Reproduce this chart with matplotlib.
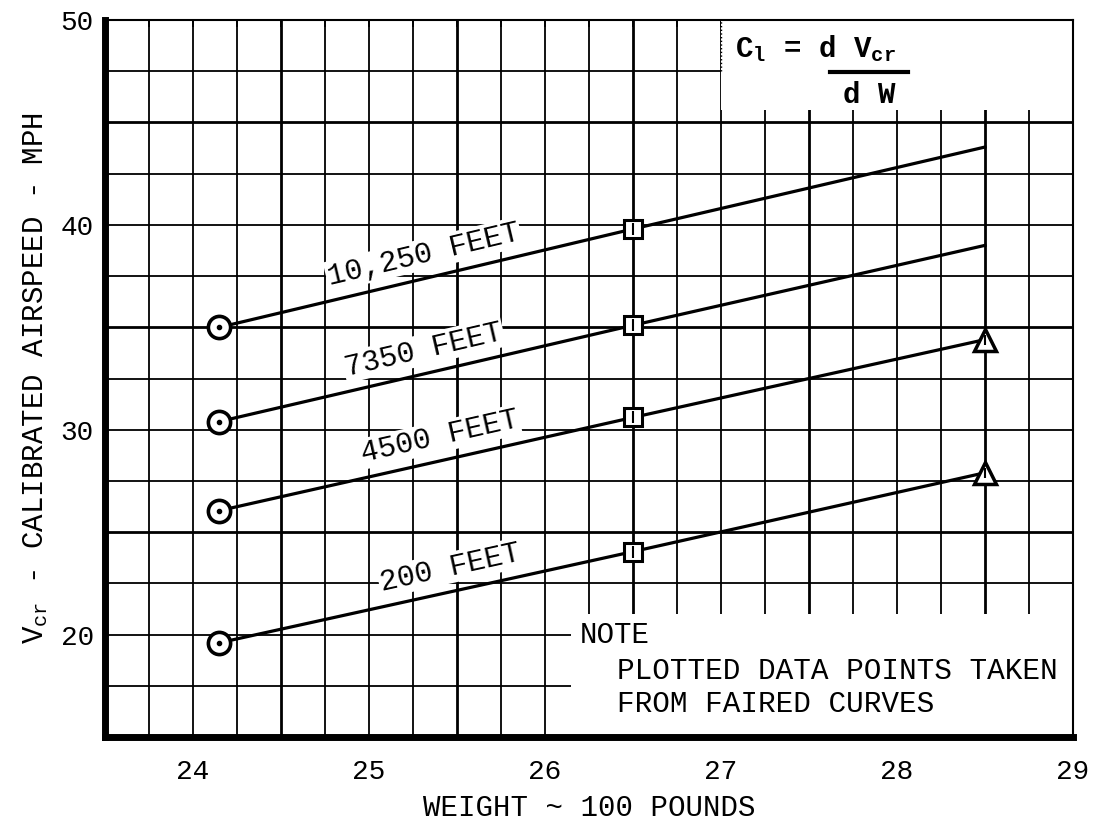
import matplotlib
matplotlib.use("Agg")
import matplotlib.pyplot as plt
from matplotlib.patches import Rectangle
from matplotlib.ticker import MultipleLocator
import numpy as np

# weight (100 lb) of the three faired points
weight = [24.15, 26.5, 28.5]

# V_cr (MPH)
alt_labels = ["10,250 FEET", "7350 FEET", "4500 FEET", "200 FEET"]
vcr_10250 = [35.0, 39.8, 43.8]
vcr_7350 = [30.4, 35.1, 39.0]
vcr_4500 = [26.05, 30.6, 34.4]
vcr_200 = [19.6, 24.05, 27.9]
curves = [vcr_10250, vcr_7350, vcr_4500, vcr_200]

# which curves have a plotted triangle at the last weight
has_triangle = [False, False, True, True]

x_ticks = [24, 25, 26, 27, 28, 29]
y_ticks = [20, 30, 40, 50]

# where the altitude labels sit along each line
label_x = [25.34, 25.34, 25.43, 25.49]

FONT = "Liberation Mono"
plt.rcParams["font.family"] = [FONT, "DejaVu Sans Mono"]
plt.rcParams["mathtext.fontset"] = "custom"
plt.rcParams["mathtext.rm"] = FONT
plt.rcParams["mathtext.it"] = FONT
plt.rcParams["mathtext.tt"] = FONT
plt.rcParams["mathtext.bf"] = FONT + ":bold"


def draw_grid(ax):
    for x in np.arange(23.75, 29.0, 0.25):
        heavy = abs((x % 1) - 0.5) < 1e-6
        ax.axvline(x, color="black", lw=2.0 if heavy else 1.3, zorder=1)
    for y in np.arange(17.5, 50.0, 2.5):
        heavy = abs((y % 10) - 5) < 1e-6
        ax.axhline(y, color="black", lw=2.0 if heavy else 1.3, zorder=1)


def main():
    fig = plt.figure(figsize=(11.02, 8.24), dpi=100)
    ax = fig.add_axes([0.0953, 0.1056, 0.8784, 0.8701])
    ax.set_xlim(23.5, 29.0)
    ax.set_ylim(15, 50)

    draw_grid(ax)

    # blank areas of the graph paper (formula and note)
    ax.add_patch(Rectangle((27.0, 45.6), 2.0, 4.4, facecolor="white",
                           edgecolor="none", zorder=2))
    ax.add_patch(Rectangle((26.15, 15.0), 2.85, 6.0, facecolor="white",
                           edgecolor="none", zorder=2))
    ax.plot([27.0, 27.0], [47.5, 50], color="black", lw=1.0, ls=":", zorder=2)

    # pixels per data unit, to turn line slopes into text angles
    p0 = ax.transData.transform((24, 20))
    p1 = ax.transData.transform((25, 21))
    sx = p1[0] - p0[0]
    sy = p1[1] - p0[1]

    for vals, lab, lx, tri in zip(curves, alt_labels, label_x, has_triangle):
        ax.plot(weight, vals, color="black", lw=2.3, zorder=3)
        ax.plot(weight[0], vals[0], marker="o", ms=16, mfc="white",
                mec="black", mew=2.6, zorder=4)
        ax.plot(weight[0], vals[0], marker=".", ms=6, color="black", zorder=5)
        ax.plot(weight[1], vals[1], marker="s", ms=13, mfc="white",
                mec="black", mew=2.2, zorder=4)
        ax.plot(weight[1], vals[1], marker="|", ms=8, color="black",
                mew=1.5, zorder=5)
        if tri:
            ax.plot(weight[2], vals[2], marker="^", ms=16, mfc="white",
                    mec="black", mew=2.5, zorder=4)
            ax.plot(weight[2], vals[2], marker="|", ms=7, color="black",
                    mew=1.5, zorder=5)

        slope = (vals[1] - vals[0]) / (weight[1] - weight[0])
        ang = np.degrees(np.arctan(slope * sy / sx))
        ly = np.interp(lx, weight, vals)
        ox = -np.sin(np.radians(ang)) * 17
        oy = np.cos(np.radians(ang)) * 17
        ax.annotate(lab, (lx, ly), xytext=(ox, oy), textcoords="offset points",
                    rotation=ang, rotation_mode="anchor", ha="center",
                    va="center", fontsize=21.5, zorder=6,
                    bbox=dict(facecolor="white", edgecolor="none", pad=1))

    # formula in the upper right
    ax.text(27.08, 48.6, r"C$_{\mathbf{l}}$ = d V$_{\mathbf{cr}}$",
            fontsize=21, fontweight="bold", ha="left", va="center", zorder=6)
    ax.plot([27.62, 28.06], [47.45, 47.45], color="black", lw=3, zorder=6)
    ax.text(27.84, 46.35, "d W", fontsize=21, fontweight="bold",
            ha="center", va="center", zorder=6)

    # note in the lower right
    ax.text(26.2, 20.0, "NOTE", fontsize=21, ha="left", va="center", zorder=6)
    ax.text(26.41, 18.2, "PLOTTED DATA POINTS TAKEN", fontsize=21.2,
            ha="left", va="center", zorder=6)
    ax.text(26.41, 16.6, "FROM FAIRED CURVES", fontsize=21.2,
            ha="left", va="center", zorder=6)

    ax.set_xticks(x_ticks)
    ax.set_yticks(y_ticks)
    ax.xaxis.set_minor_locator(MultipleLocator(0.25))
    ax.tick_params(axis="y", length=0, labelsize=20, pad=8)
    # small stubs along the top edge, labels below
    ax.tick_params(axis="x", which="both", top=True, bottom=False,
                   direction="in", length=5, width=1.3,
                   labelbottom=True, labeltop=False, labelsize=20, pad=16)

    ax.set_xlabel("WEIGHT ~ 100 POUNDS", fontsize=21, labelpad=6)
    ax.set_ylabel(r"V$_{\rm cr}$ - CALIBRATED AIRSPEED - MPH", fontsize=21,
                  labelpad=8)

    ax.spines["left"].set_linewidth(5)
    ax.spines["bottom"].set_linewidth(5)
    ax.spines["top"].set_linewidth(1.5)
    ax.spines["right"].set_linewidth(1.5)
    for s in ax.spines.values():
        s.set_zorder(7)

    fig.savefig("out.png", dpi=100)


if __name__ == "__main__":
    main()
